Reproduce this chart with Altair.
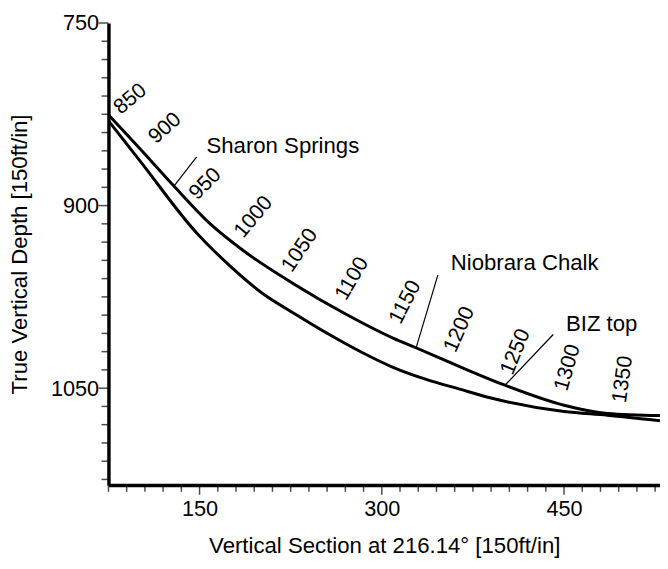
import altair as alt
import pandas as pd

# ---- data ----
upper_vs = [75.5, 98.9, 128.9, 158.1, 188.1, 228.6, 269.1, 309.7, 327.6, 364.1, 401.4, 450.0, 485.7, 529.0]
upper_tvd = [826.0, 851.1, 884.0, 914.4, 938.5, 965.0, 988.5, 1009.1, 1016.6, 1032.3, 1047.6, 1064.0, 1070.8, 1072.5]
lower_vs = [75.5, 101.4, 147.6, 174.3, 201.9, 228.6, 255.4, 283.0, 309.7, 336.5, 364.1, 390.8, 450.0, 485.7, 529.0]
lower_tvd = [831.0, 863.9, 922.5, 948.9, 972.2, 989.0, 1005.1, 1020.3, 1033.1, 1042.8, 1050.8, 1058.3, 1069.2, 1072.2, 1076.7]

md_labels = ["850", "900", "950", "1000", "1050", "1100", "1150", "1200", "1250", "1300", "1350"]
md_vs = [93.2, 121.6, 154.9, 194.6, 232.7, 275.7, 319.5, 364.1, 410.3, 453.2, 498.6]
md_tvd = [812.6, 836.6, 882.4, 909.6, 936.9, 960.2, 979.4, 1001.9, 1020.3, 1033.2, 1042.8]
md_angle = [320, 318, 315, 310, 304, 300, 297, 294, 292, 286, 278]

formations = ["Sharon Springs", "Niobrara Chalk", "BIZ top"]
leader_vs = [128.9, 328.4, 401.4]
leader_tvd = [884.0, 1016.3, 1047.6]
leader_vs2 = [147.6, 346.2, 441.1]
leader_tvd2 = [859.9, 956.9, 1005.9]
form_text_vs = [155.7, 356.8, 451.6]
form_text_tvd = [856.7, 952.9, 1002.7]

x_minor = [v for v in range(75, 530, 15) if v % 150 != 0]
y_minor = [v for v in range(750, 1130, 15) if v % 150 != 0]
x_major = [150, 300, 450]
y_major = [750, 900, 1050]

FONT = "Liberation Sans"
W, H = 560, 469
MINOR, MAJOR = 7, 10

df_upper = pd.DataFrame({"vs": upper_vs, "tvd": upper_tvd})
df_lower = pd.DataFrame({"vs": lower_vs, "tvd": lower_tvd})
df_md = pd.DataFrame({"vs": md_vs, "tvd": md_tvd, "label": md_labels, "ang": md_angle})
df_lead = pd.DataFrame({"vs": leader_vs, "tvd": leader_tvd, "vs2": leader_vs2, "tvd2": leader_tvd2})
df_form = pd.DataFrame({"vs": form_text_vs, "tvd": form_text_tvd, "name": formations})
df_xminor = pd.DataFrame({"vs": x_minor})
df_xmajor = pd.DataFrame({"vs": x_major})
df_yminor = pd.DataFrame({"tvd": y_minor})
df_ymajor = pd.DataFrame({"tvd": y_major})

xscale = alt.Scale(domain=[75, 529], nice=False, zero=False)
yscale = alt.Scale(domain=[750, 1129.5], nice=False, zero=False, reverse=True)

common = dict(
    ticks=False,
    domain=True, domainColor="black", domainWidth=3.5, grid=False,
)

x_axis = alt.Axis(
    orient="bottom",
    values=x_major,
    format="d",
    labelFont=FONT,
    labelFontSize=22,
    labelColor="black",
    labelPadding=14,
    labelFlush=False,
    labelOverlap=False,
    title="Vertical Section at 216.14° [150ft/in]",
    titleFont=FONT,
    titleFontSize=22.5,
    titleFontWeight="normal",
    titleColor="#000000",
    titleBaseline="alphabetic",
    titleY=69,
    **common,
)
y_axis = alt.Axis(
    orient="left",
    values=y_major,
    format="d",
    labelFont=FONT,
    labelFontSize=22,
    labelColor="black",
    labelPadding=10,
    labelFlush=False,
    labelOverlap=False,
    title="True Vertical Depth [150ft/in]",
    titleFont=FONT,
    titleFontSize=22.5,
    titleFontWeight="normal",
    titleColor="#000000",
    titleAngle=270,
    titleAlign="center",
    titleBaseline="bottom",
    titleX=-78,
    titleY=234.5,
    **common,
)

X = alt.X("vs:Q", scale=xscale, axis=x_axis)
Y = alt.Y("tvd:Q", scale=yscale, axis=y_axis)

upper = alt.Chart(df_upper).mark_line(
    color="black", strokeWidth=3, interpolate="monotone"
).encode(x=X, y=Y)
lower = alt.Chart(df_lower).mark_line(
    color="black", strokeWidth=3, interpolate="monotone"
).encode(x=X, y=Y)

leaders = alt.Chart(df_lead).mark_rule(color="black", strokeWidth=1.2).encode(
    x=X, y=Y, x2="vs2:Q", y2="tvd2:Q"
)

form_text = alt.Chart(df_form).mark_text(
    font=FONT, fontSize=22.5, color="black", align="left", baseline="alphabetic"
).encode(x=X, y=Y, text="name:N")

md_text = alt.Chart(df_md).mark_text(
    font=FONT, fontSize=21.5, color="black", align="center", baseline="middle"
).encode(x=X, y=Y, text="label:N", angle=alt.Angle("ang:Q", scale=None))

# outward axis tick marks (minor every 15, major every 150)
xt_minor = alt.Chart(df_xminor).mark_tick(
    color="black", thickness=1.5, size=MINOR, orient="vertical", yOffset=H + MINOR / 2
).encode(x=X, y=alt.value(0))
xt_major = alt.Chart(df_xmajor).mark_tick(
    color="black", thickness=1.5, size=MAJOR, orient="vertical", yOffset=H + MAJOR / 2
).encode(x=X, y=alt.value(0))
yt_minor = alt.Chart(df_yminor).mark_tick(
    color="black", thickness=1.5, size=MINOR, orient="horizontal", xOffset=-MINOR / 2
).encode(y=Y, x=alt.value(0))
yt_major = alt.Chart(df_ymajor).mark_tick(
    color="black", thickness=1.5, size=MAJOR, orient="horizontal", xOffset=-MAJOR / 2
).encode(y=Y, x=alt.value(0))

chart = (
    alt.layer(
        upper, lower, leaders, form_text, md_text,
        xt_minor, xt_major, yt_minor, yt_major,
    )
    .properties(
        width=W,
        height=H,
        autosize=alt.AutoSizeParams(type="none"),
        padding={"left": 102, "top": 11, "right": 0, "bottom": 73},
        background="white",
    )
    .configure_view(stroke=None)
)

chart.save("out.html", embed_options={"renderer": "svg", "actions": False})
